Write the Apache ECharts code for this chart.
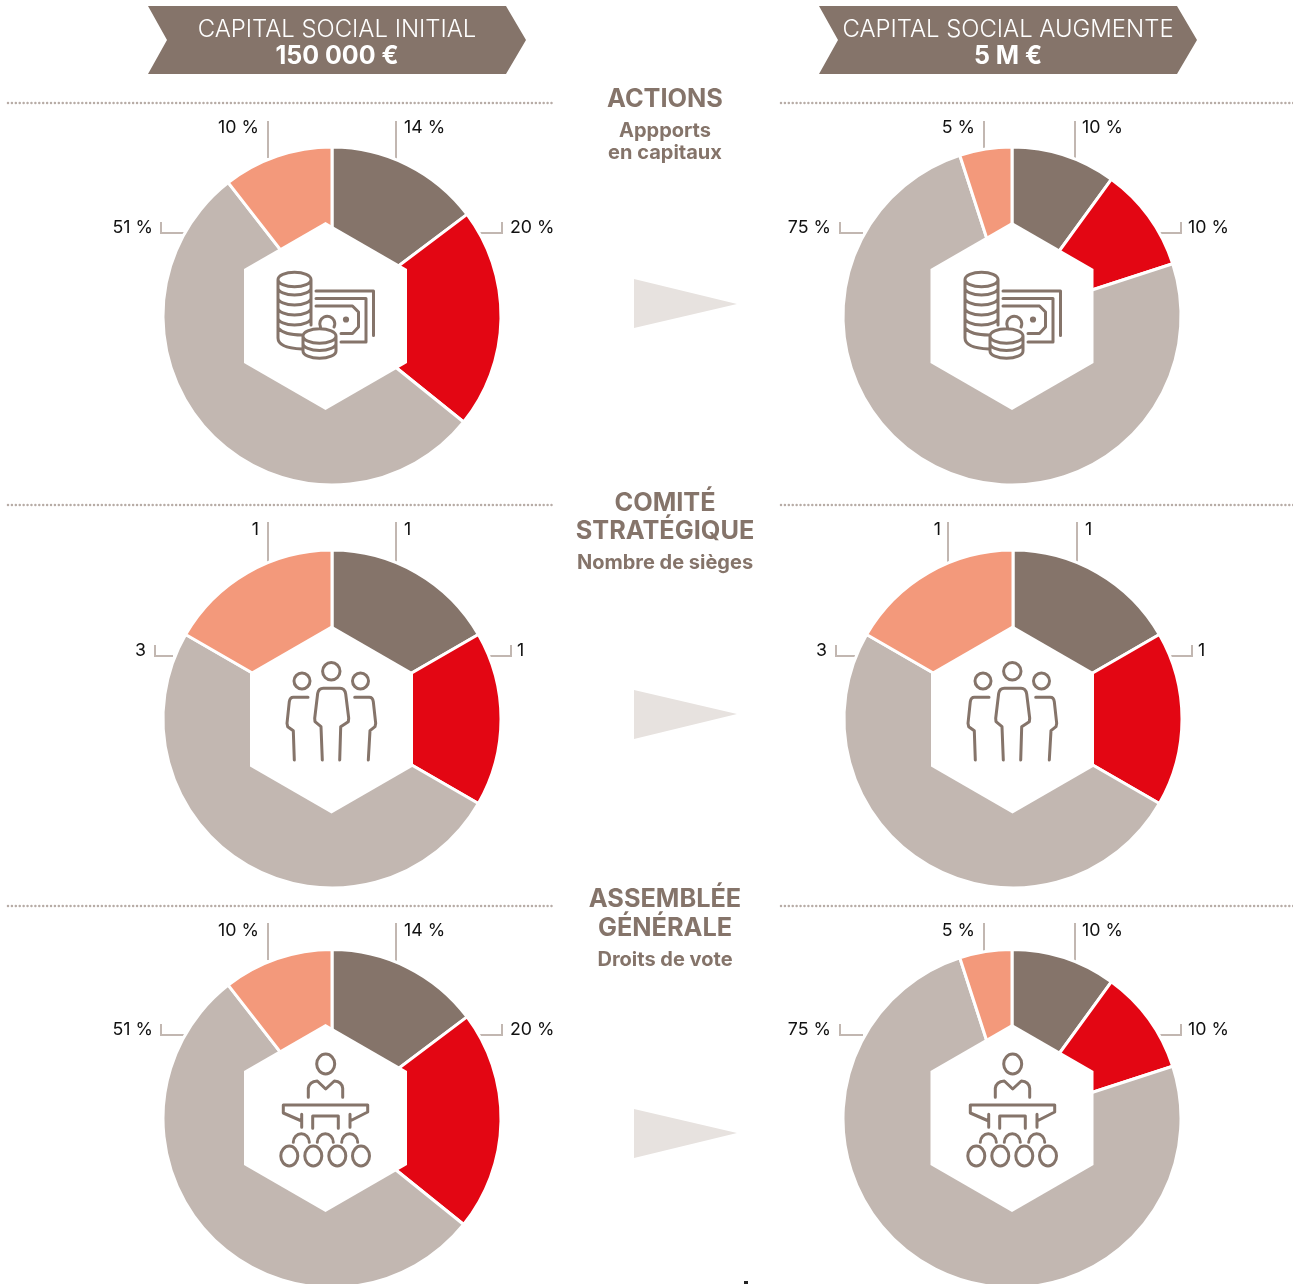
<!DOCTYPE html>
<html><head><meta charset="utf-8">
<style>html,body{margin:0;padding:0;background:#fff}#c{width:1293px;height:1284px}</style>
<script src="https://cdn.jsdelivr.net/npm/echarts@6/dist/echarts.min.js"></script>
</head><body><div id="c"></div>
<script>
// ---- data ----
const sliceNames = ['Part A', 'Part B', 'Part C', 'Part D'];
const actionsInitial = [14, 20, 51, 10];
const actionsAugmente = [10, 10, 75, 5];
const comiteInitial = [1, 1, 3, 1];
const comiteAugmente = [1, 1, 3, 1];
const assembleeInitial = [14, 20, 51, 10];
const assembleeAugmente = [10, 10, 75, 5];
const percentSuffix = ' %';
const noSuffix = '';
const headerLeft = ['CAPITAL SOCIAL INITIAL', '150 000 €'];
const headerRight = ['CAPITAL SOCIAL AUGMENTE', '5 M €'];

// ---- style ----
const BROWN = '#85746a', RED = '#e30613', GREY = '#c2b7b1', PEACH = '#f3997b', ARROW = '#e7e2df', DOT = '#b7aca6';
const sliceColors = [BROWN, RED, GREY, PEACH];
const FONT = 'Inter, "Noto Sans", sans-serif';

// panel layout: centre, label anchors and leader lines (in page pixels)
function panel(values, suffix, cx, cy, lay) {
  return {values, suffix, cx, cy, lay};
}
const L = (x, y, align, pts) => ({x, y, align, pts});
const panels = [
  panel(actionsInitial, percentSuffix, 332, 316, [
    L(404,128,'left',[[396,159],[396,121]]),
    L(510,228,'left',[[478,233],[502,233],[502,222]]),
    L(153,228,'right',[[184,233],[161,233],[161,222]]),
    L(259,128,'right',[[268,158],[268,121]])]),
  panel(actionsAugmente, percentSuffix, 1012, 316, [
    L(1082,128,'left',[[1075,160],[1075,121]]),
    L(1188,228,'left',[[1158,233],[1181,233],[1181,222]]),
    L(831,228,'right',[[863,233],[840,233],[840,222]]),
    L(975,128,'right',[[984,149],[984,121]])]),
  panel(comiteInitial, noSuffix, 332, 719, [
    L(404,530,'left',[[396,563],[396,522]]),
    L(517,651,'left',[[490,656],[511,656],[511,645]]),
    L(146,651,'right',[[173,656],[155,656],[155,645]]),
    L(259,530,'right',[[268,563],[268,522]])]),
  panel(comiteAugmente, noSuffix, 1013, 719, [
    L(1085,530,'left',[[1077,563],[1077,522]]),
    L(1198,651,'left',[[1170,656],[1192,656],[1192,645]]),
    L(827,651,'right',[[855,656],[836,656],[836,645]]),
    L(941,530,'right',[[948,563],[948,522]])]),
  panel(assembleeInitial, percentSuffix, 332, 1118.5, [
    L(404,931,'left',[[396,961],[396,923]]),
    L(510,1030,'left',[[478,1035],[502,1035],[502,1024]]),
    L(153,1030,'right',[[184,1035],[161,1035],[161,1024]]),
    L(259,931,'right',[[268,960],[268,923]])]),
  panel(assembleeAugmente, percentSuffix, 1012, 1118.5, [
    L(1082,931,'left',[[1075,962],[1075,923]]),
    L(1188,1030,'left',[[1158,1035],[1181,1035],[1181,1024]]),
    L(831,1030,'right',[[863,1035],[840,1035],[840,1024]]),
    L(975,931,'right',[[984,951],[984,923]])])
];

const series = panels.map(p => ({
  type: 'pie',
  center: [p.cx, p.cy],
  radius: [0, 169],
  startAngle: 90,
  clockwise: true,
  avoidLabelOverlap: false,
  silent: true,
  animation: false,
  itemStyle: {borderColor: '#fff', borderWidth: 3},
  label: {show: true, position: 'outside', color: '#111', fontFamily: FONT, fontSize: 17.8,
    formatter: o => o.value + p.suffix},
  labelLine: {show: true, smooth: false, lineStyle: {color: GREY, width: 2}},
  labelLayout: params => {
    const l = p.lay[params.dataIndex];
    return {x: l.x, y: l.y, align: l.align, verticalAlign: 'middle', labelLinePoints: l.pts};
  },
  data: p.values.map((v, i) => ({name: sliceNames[i], value: v, itemStyle: {color: sliceColors[i]}}))
}));

// ---- decoration ----
const g = [];
const Z = 100;
function poly(points, fill) { g.push({type:'polygon', z:Z, shape:{points}, style:{fill}}); }
function txt(text, x, y, size, weight, fill) {
  g.push({type:'text', z:Z+2, style:{text, x, y, fill, textAlign:'center', textVerticalAlign:'middle',
    font: `${weight} ${size}px ${FONT}`}});
}
function banner(x0, lines, cx) {
  poly([[x0,6],[x0+358,6],[x0+378,40],[x0+358,74],[x0,74],[x0+19,40]], BROWN);
  txt(lines[0], cx, 30, 23.9, 300, '#fff');
  txt(lines[1], cx, 56, 25, 700, '#fff');
}
banner(148, headerLeft, 337);
banner(819, headerRight, 1008);

[103, 505, 906].forEach(y => {
  [[8,554],[781,1296]].forEach(([a,b]) => g.push({type:'line', z:Z, shape:{x1:a,y1:y,x2:b,y2:y},
    style:{stroke:DOT, lineWidth:2.5, lineCap:'round', lineDash:[0.01,3.9]}}));
});
[[279,304,328],[690,714,739],[1109,1133,1158]].forEach(([a,b,c]) => poly([[634,a],[737,b],[634,c]], ARROW));

txt('ACTIONS', 665, 99, 25.3, 700, BROWN);
txt('Appports', 665, 131, 20, 700, BROWN);
txt('en capitaux', 665, 153, 20, 700, BROWN);
txt('COMITÉ', 665, 503, 25.3, 700, BROWN);
txt('STRATÉGIQUE', 665, 531, 25.3, 700, BROWN);
txt('Nombre de sièges', 665, 563, 20, 700, BROWN);
txt('ASSEMBLÉE', 665, 899, 25.3, 700, BROWN);
txt('GÉNÉRALE', 665, 928, 25.3, 700, BROWN);
txt('Droits de vote', 665, 960, 20, 700, BROWN);

// white hexagons
function hex(cx, cy) {
  const w = 81.5, h = 94;
  poly([[cx,cy-h],[cx+w,cy-h/2],[cx+w,cy+h/2],[cx,cy+h],[cx-w,cy+h/2],[cx-w,cy-h/2]], '#fff');
}
[[325.5,316],[1012,316],[331.5,719.5],[1012.5,719.5],[325.5,1118],[1012,1118]].forEach(c => hex(c[0],c[1]));

// icons
const ell = (x,y,rx,ry) => `M${x-rx} ${y}A${rx} ${ry} 0 1 0 ${x+rx} ${y}A${rx} ${ry} 0 1 0 ${x-rx} ${y}Z`;
const arcDown = (x1,x2,y,ry) => `M${x1} ${y}A${(x2-x1)/2} ${ry} 0 0 0 ${x2} ${y}`;
const iconCoins = [
  ell(294.5,279.5,16.5,7.3),
  'M278 280V338Q278 348 302 349',
  'M311 280V325',
  arcDown(278,311,288,7), arcDown(278,311,298,7), arcDown(278,311,308,7), arcDown(278,311,318,7),
  'M278 328Q284 335 302 335',
  ell(319.5,336,16.5,7.3),
  'M303 336V351A16.5 7.3 0 0 0 336 351V336',
  arcDown(303,336,343.5,7),
  'M316 291H373.5V335.5',
  'M316 298.5H366V342H341',
  'M316 306H352.5L358.5 312V327L352.5 333.5H341',
  'M320.5 327A7.5 7.5 0 1 1 334 327',
  ell(346,319.5,1.6,1.6)
].join('');
const iconPeople = [
  ell(331.3,671.3,8.7,8.7), ell(302,681,8,8), ell(360.5,681,8,8),
  'M322.3 760L321 726.7L315 721.7L314.7 718.3L317.7 693.3Q318.7 688.3 323.3 688.3H340Q344.7 688.3 345.7 694L348.7 718.3L348.3 721.7L340.7 726.7L339.7 760',
  'M308 697.3H293.3Q290 697.3 289.3 701.7L287 723.3L287.7 726.7L293.3 730.7L294.3 760',
  'M354.7 697.3H369.3Q372.7 697.3 373.3 701.7L375.7 723.3L375 726.7L370 730.7L368.3 760'
].join('');
const iconAssembly = [
  ell(325.7,1064,9,10),
  'M308.3 1097.3V1088.3Q309.3 1081.7 317.3 1081L325.7 1089L334.3 1081Q342 1081.7 342.7 1088.3V1097.3',
  'M301.7 1121L283.3 1113V1105H367.7V1112L350 1121',
  'M301.7 1114.3V1127.3', 'M350 1114.3V1127.3',
  'M312.7 1128.3V1116H338.3V1128.3',
  'M293.3 1142.3A8 8.5 0 0 1 309.3 1142.3',
  'M317.3 1142.3A8 8.5 0 0 1 333.3 1142.3',
  'M341.7 1142.3A8 8.5 0 0 1 357.7 1142.3',
  ell(289.3,1156,8.5,10), ell(313.3,1156,8.5,10), ell(337.3,1156,8.5,10), ell(361,1156,8.5,10)
].join('');
echarts.graphic.registerShape('iconCoins', echarts.graphic.extendPath(iconCoins, {}));
echarts.graphic.registerShape('iconPeople', echarts.graphic.extendPath(iconPeople, {}));
echarts.graphic.registerShape('iconAssembly', echarts.graphic.extendPath(iconAssembly, {}));
function icon(type, dx) {
  g.push({type, z:Z+1, x:dx, y:0,
    style:{fill:'none', stroke:BROWN, lineWidth:3, lineCap:'round', lineJoin:'round'}});
}
icon('iconCoins',0); icon('iconCoins',687);
icon('iconPeople',0); icon('iconPeople',681);
icon('iconAssembly',0); icon('iconAssembly',687);

// tiny clipped glyph at the very bottom edge of the source
g.push({type:'rect', z:Z, shape:{x:744,y:1281,width:4,height:3}, style:{fill:'#222'}});

const chart = echarts.init(document.getElementById('c'), null, {renderer:'canvas', width:1293, height:1284});
chart.setOption({animation:false, backgroundColor:'#fff', series, graphic:{elements:g}});
</script></body></html>
